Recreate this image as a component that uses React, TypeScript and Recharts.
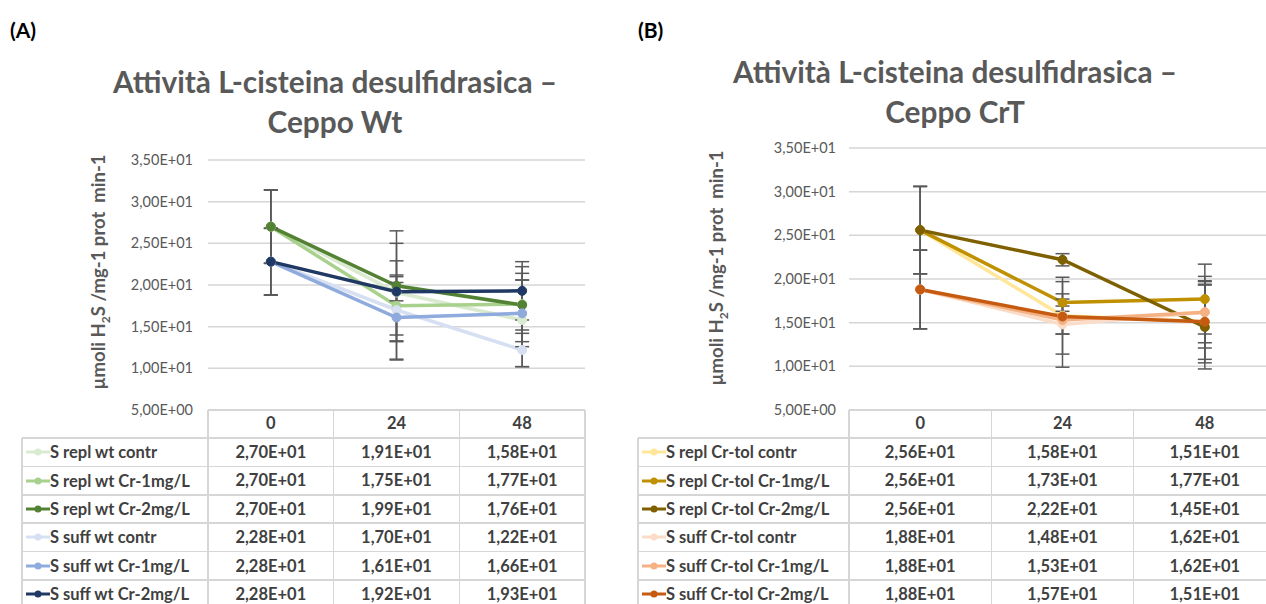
import React from 'react';
import { LineChart, Line, XAxis, YAxis, CartesianGrid, ErrorBar } from 'recharts';

// time points (h)
const HOURS = ['0', '24', '48'];
const Y_TICKS = [5, 10, 15, 20, 25, 30, 35];

// Ceppo Wt
const WT_NAMES = [
  'S repl wt contr',
  'S repl wt Cr-1mg/L',
  'S repl wt Cr-2mg/L',
  'S suff wt contr',
  'S suff wt Cr-1mg/L',
  'S suff wt Cr-2mg/L',
];
const WT_COLORS = ['#d9ead0', '#a9d18e', '#548235', '#d6e0f2', '#8faadc', '#203864'];
const WT_VALUES = [
  [27.0, 19.1, 15.8],
  [27.0, 17.5, 17.7],
  [27.0, 19.9, 17.6],
  [22.8, 17.0, 12.2],
  [22.8, 16.1, 16.6],
  [22.8, 19.2, 19.3],
];
const WT_ERRORS = [
  [4.4, 5.9, 5.6],
  [4.4, 3.5, 4.5],
  [4.4, 6.6, 3.0],
  [4.0, 5.9, 2.0],
  [4.0, 5.1, 4.0],
  [4.0, 1.1, 3.5],
];

// Ceppo CrT
const CRT_NAMES = [
  'S repl Cr-tol contr',
  'S repl Cr-tol Cr-1mg/L',
  'S repl Cr-tol Cr-2mg/L',
  'S suff Cr-tol contr',
  'S suff Cr-tol Cr-1mg/L',
  'S suff Cr-tol Cr-2mg/L',
];
const CRT_COLORS = ['#ffe699', '#bf9000', '#7f6000', '#fbdcc8', '#f4b183', '#c55a11'];
const CRT_VALUES = [
  [25.6, 15.8, 15.1],
  [25.6, 17.3, 17.7],
  [25.6, 22.2, 14.5],
  [18.8, 14.8, 16.2],
  [18.8, 15.3, 16.2],
  [18.8, 15.7, 15.1],
];
const CRT_ERRORS = [
  [5.0, 4.4, 4.7],
  [5.0, 1.0, 4.0],
  [5.0, 0.7, 4.8],
  [4.5, 4.9, 3.5],
  [4.5, 1.6, 4.1],
  [4.5, 2.0, 4.3],
];

const FONT = 'Lato, "Open Sans", sans-serif';
const GRID = '#d6d6d6';
const ROW_H = 28.4;

function sci(v: number) {
  const [m, e] = v.toExponential(2).split('e');
  const exp = parseInt(e, 10);
  return m.replace('.', ',') + 'E' + (exp < 0 ? '-' : '+') + String(Math.abs(exp)).padStart(2, '0');
}

function buildRows(values: number[][], errors: number[][]) {
  return HOURS.map((h, i) => {
    const row: Record<string, number | string> = { t: h };
    values.forEach((v, s) => {
      row['s' + s] = v[i];
      row['e' + s] = errors[s][i];
    });
    return row;
  });
}

interface PanelProps {
  tag: string;
  tagX: number;
  title: string[];
  titleCx: number;
  titleTop: number;
  labelX: number;
  labelY: number;
  chartLeft: number;
  plotLeft: number;
  plotRight: number;
  plotTop: number;
  tableLeft: number;
  tickGap: number;
  names: string[];
  colors: string[];
  values: number[][];
  errors: number[][];
}

function Panel(p: PanelProps) {
  const data = buildRows(p.values, p.errors);
  const plotW = p.plotRight - p.plotLeft;
  const band = plotW / HOURS.length;
  const chartW = p.plotRight - p.chartLeft;
  const tableTop = 410;
  const bodyTop = tableTop + 28;
  const bottom = bodyTop + ROW_H * p.names.length;

  const hLines = [
    { y: tableTop, x1: p.plotLeft, x2: p.plotRight },
    ...p.names.map((_, i) => ({ y: bodyTop + i * ROW_H, x1: p.tableLeft, x2: p.plotRight })),
    { y: bottom, x1: p.tableLeft, x2: p.plotRight },
  ];
  const vLines = [
    { x: p.tableLeft, y1: bodyTop },
    ...[0, 1, 2, 3].map((k) => ({ x: p.plotLeft + k * band, y1: tableTop })),
  ];

  return (
    <>
      <div style={{ position: 'absolute', left: p.tagX, top: 17, fontFamily: FONT, fontWeight: 700, fontSize: 21, color: '#000' }}>
        {p.tag}
      </div>
      <div
        style={{
          position: 'absolute',
          left: p.titleCx - 300,
          width: 600,
          top: p.titleTop,
          textAlign: 'center',
          fontFamily: FONT,
          fontWeight: 700,
          fontSize: 29.8,
          lineHeight: '40px',
          color: '#595959',
        }}
      >
        {p.title.map((t) => (
          <div key={t}>{t}</div>
        ))}
      </div>
      <div
        style={{
          position: 'absolute',
          left: p.labelX,
          top: p.labelY,
          transform: 'translate(-50%, -50%) rotate(-90deg)',
          whiteSpace: 'pre',
          fontFamily: FONT,
          fontWeight: 700,
          fontSize: 18.5,
          color: '#595959',
        }}
      >
        µmoli H<sub style={{ fontSize: 12 }}>2</sub>S /mg-1 prot  min-1
      </div>

      <div style={{ position: 'absolute', left: p.chartLeft, top: 0 }}>
        <LineChart width={chartW} height={440} data={data} margin={{ top: p.plotTop, right: 0, bottom: 0, left: 0 }}>
          <CartesianGrid vertical={false} stroke={GRID} strokeWidth={1.5} />
          <XAxis
            dataKey="t"
            height={30}
            padding={{ left: band / 2, right: band / 2 }}
            axisLine={false}
            tickLine={false}
            tickSize={0}
            tickMargin={7}
            tick={{ fontFamily: FONT, fontSize: 16.5, fontWeight: 700, fill: '#404040' }}
          />
          <YAxis
            width={p.plotLeft - p.chartLeft}
            domain={[5, 35]}
            ticks={Y_TICKS}
            interval={0}
            tickFormatter={sci}
            axisLine={false}
            tickLine={false}
            tickSize={0}
            tickMargin={p.tickGap}
            tick={{ fontFamily: FONT, fontSize: 14.5, fill: '#595959' }}
          />
          {p.names.map((n, s) => (
            <Line
              key={n}
              name={n}
              dataKey={'s' + s}
              stroke={p.colors[s]}
              strokeWidth={3.5}
              dot={{ r: 4.5, fill: p.colors[s], stroke: p.colors[s], strokeWidth: 1 }}
              isAnimationActive={false}
            >
              <ErrorBar dataKey={'e' + s} width={7} stroke="#595959" strokeWidth={1.5} direction="y" isAnimationActive={false} />
            </Line>
          ))}
        </LineChart>
      </div>

      {hLines.map((l, i) => (
        <div key={'h' + i} style={{ position: 'absolute', left: l.x1, top: l.y - 0.75, width: l.x2 - l.x1, height: 1.5, background: GRID }} />
      ))}
      {vLines.map((l, i) => (
        <div key={'v' + i} style={{ position: 'absolute', left: l.x - 0.75, top: l.y1, width: 1.5, height: bottom - l.y1, background: GRID }} />
      ))}

      {p.names.map((n, s) => (
        <React.Fragment key={n}>
          <div
            style={{
              position: 'absolute',
              left: p.tableLeft + 4,
              top: bodyTop + s * ROW_H,
              height: ROW_H,
              display: 'flex',
              alignItems: 'center',
              fontFamily: FONT,
              fontWeight: 700,
              fontSize: 16.5,
              lineHeight: '20px',
              color: '#404040',
              whiteSpace: 'nowrap',
            }}
          >
            <svg width={24} height={10} style={{ marginRight: 0 }}>
              <line x1={0} y1={5} x2={24} y2={5} stroke={p.colors[s]} strokeWidth={3} />
              <circle cx={12} cy={5} r={3.5} fill={p.colors[s]} />
            </svg>
            {n}
          </div>
          {p.values[s].map((v, k) => (
            <div
              key={k}
              style={{
                position: 'absolute',
                left: p.plotLeft + k * band,
                width: band,
                top: bodyTop + s * ROW_H,
                height: ROW_H,
                lineHeight: ROW_H + 'px',
                textAlign: 'center',
                fontFamily: FONT,
                fontWeight: 700,
                fontSize: 16.5,
                color: '#404040',
              }}
            >
              {sci(v)}
            </div>
          ))}
        </React.Fragment>
      ))}
    </>
  );
}

export default function App() {
  return (
    <div style={{ position: 'absolute', left: 0, top: 0, width: 1266, height: 604, overflow: 'hidden', background: '#fff' }}>
      <Panel
        tag="(A)"
        tagX={10}
        title={['Attività L-cisteina desulfidrasica –', 'Ceppo Wt']}
        titleCx={335}
        titleTop={62}
        labelX={100}
        labelY={272}
        chartLeft={0}
        plotLeft={208}
        plotRight={585}
        plotTop={160}
        tableLeft={22}
        tickGap={15}
        names={WT_NAMES}
        colors={WT_COLORS}
        values={WT_VALUES}
        errors={WT_ERRORS}
      />
      <Panel
        tag="(B)"
        tagX={638}
        title={['Attività L-cisteina desulfidrasica –', 'Ceppo CrT']}
        titleCx={955}
        titleTop={52}
        labelX={718}
        labelY={268}
        chartLeft={630}
        plotLeft={849}
        plotRight={1276}
        plotTop={148}
        tableLeft={638}
        tickGap={13}
        names={CRT_NAMES}
        colors={CRT_COLORS}
        values={CRT_VALUES}
        errors={CRT_ERRORS}
      />
    </div>
  );
}
